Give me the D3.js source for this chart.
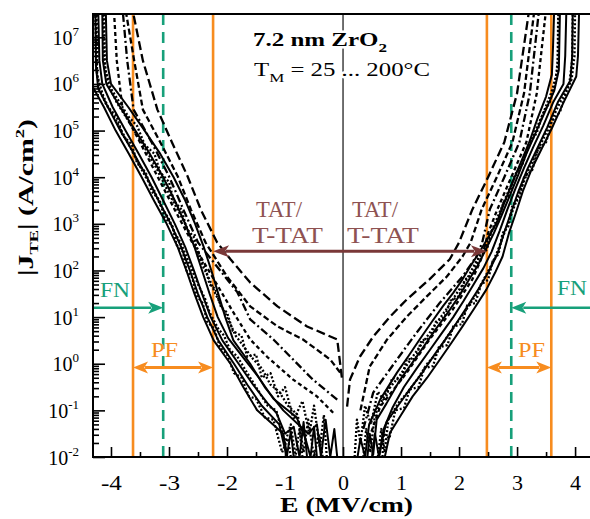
<!DOCTYPE html>
<html>
<head>
<meta charset="utf-8">
<script src="https://cdn.jsdelivr.net/npm/d3@7/dist/d3.min.js"></script>
<style>
  html, body { margin: 0; padding: 0; background: #fff; }
  text { font-family: "Liberation Serif", "Times New Roman", serif; }
</style>
</head>
<body>
<script>
// Current density |J_TE| vs field E for 7.2 nm ZrO2, T_M = 25 ... 200 °C.
// Each branch is stored as [E (MV/cm), log10 J (A/cm^2)] pairs.

// ---- negative-field branches ----
const leftSolidOuter = [[-0.96,-2],[-1.03,-1.5],[-1.48,-1],[-1.72,-0.5],[-1.94,0],[-2.23,0.5],[-2.41,1],[-2.56,1.5],[-2.7,2],[-2.85,2.5],[-3.04,3],[-3.26,3.5],[-3.47,4],[-3.69,4.5],[-3.92,5],[-4.12,5.5],[-4.32,5.95]];
const leftSolidB = [[-0.85,-2],[-0.9,-1.45],[-0.97,-2],[-1.1,-1.3],[-1.4,-0.9],[-1.65,-0.45],[-1.88,0],[-2.15,0.5],[-2.34,1],[-2.5,1.5],[-2.64,2],[-2.79,2.5],[-2.97,3],[-3.18,3.5],[-3.38,4],[-3.6,4.5],[-3.84,5],[-4.05,5.5],[-4.22,5.9],[-4.26,6.4],[-4.27,7.6]];
const leftSolidMid = [[-0.62,-2],[-0.68,-1.25],[-0.75,-2],[-0.85,-1.35],[-1.0,-1.5],[-1.15,-1.05],[-1.3,-0.85],[-1.55,-0.45],[-1.8,0],[-2.08,0.5],[-2.28,1],[-2.43,1.5],[-2.57,2],[-2.72,2.5],[-2.9,3],[-3.1,3.5],[-3.3,4],[-3.52,4.5],[-3.75,5],[-3.97,5.5],[-4.15,6],[-4.2,6.5],[-4.22,7.6]];
const leftSolidC = [[-0.45,-2],[-0.5,-1.35],[-0.56,-2],[-0.65,-1.6],[-0.8,-1.15],[-1.2,-0.75],[-1.45,-0.3],[-1.7,0.1],[-1.98,0.55],[-2.16,1],[-2.3,1.5],[-2.43,2],[-2.56,2.5],[-2.72,3],[-2.9,3.5],[-3.1,4],[-3.33,4.5],[-3.58,5],[-3.84,5.5],[-4.08,6],[-4.14,6.5],[-4.15,7.6]];
const leftSolidInner = [[-0.1,-2],[-0.15,-1.4],[-0.22,-2],[-0.3,-1.2],[-0.38,-2],[-0.45,-1.3],[-0.6,-1.5],[-1.03,-1],[-1.35,-0.5],[-1.6,0],[-1.89,0.5],[-2.03,1],[-2.15,1.5],[-2.27,2],[-2.4,2.5],[-2.55,3],[-2.72,3.5],[-2.92,4],[-3.15,4.5],[-3.42,5],[-3.7,5.5],[-4.0,6],[-4.07,6.5],[-4.09,7.6]];
const leftDotOuter = [[-0.7,-2],[-0.75,-1.4],[-0.82,-2],[-0.9,-1.3],[-1.0,-1.7],[-1.15,-1.0],[-1.3,-0.9],[-1.45,-0.6],[-1.55,-0.4],[-1.7,-0.1],[-1.82,0.15],[-1.95,0.3],[-2.05,0.6],[-2.15,0.75],[-2.3,1.1],[-2.38,1.4],[-2.5,1.7],[-2.6,2.0],[-2.7,2.3],[-2.8,2.6],[-2.9,2.8],[-3.0,3.1],[-3.15,3.4],[-3.25,3.7],[-3.4,4.0],[-3.55,4.35],[-3.65,4.6],[-3.8,4.95],[-3.95,5.3],[-4.1,5.6],[-4.2,5.9],[-4.25,6.3],[-4.27,7.6]];
const leftDotInner = [[-0.35,-2],[-0.42,-1.5],[-0.5,-2],[-0.6,-1.2],[-0.68,-1.9],[-0.78,-1.1],[-0.95,-0.9],[-1.1,-0.6],[-1.25,-0.45],[-1.4,-0.1],[-1.55,0.1],[-1.7,0.35],[-1.85,0.6],[-1.98,0.95],[-2.08,1.2],[-2.2,1.5],[-2.3,1.8],[-2.42,2.1],[-2.5,2.45],[-2.62,2.7],[-2.72,3.0],[-2.85,3.3],[-2.98,3.6],[-3.1,3.9],[-3.22,4.2],[-3.38,4.55],[-3.55,4.9],[-3.72,5.25],[-3.9,5.6],[-4.05,6.0],[-4.12,6.5],[-4.14,7.6]];
const leftNoisy = [[-0.28,-2],[-0.33,-1.1],[-0.4,-1.8],[-0.5,-0.9],[-0.58,-1.5],[-0.7,-0.8],[-0.85,-1.2],[-1.0,-0.5],[-1.12,-0.7],[-1.25,-0.2],[-1.4,-0.3],[-1.5,0.2],[-1.65,0.15],[-1.75,0.6],[-1.9,0.7],[-2.0,1.1],[-2.1,1.2],[-2.2,1.6],[-2.3,1.7],[-2.38,2.1],[-2.5,2.3],[-2.56,2.7],[-2.7,2.9],[-2.78,3.3],[-2.92,3.5],[-3.0,3.9],[-3.15,4.1],[-3.25,4.5],[-3.42,4.7],[-3.55,5.1],[-3.7,5.3],[-3.85,5.6],[-4.0,5.9],[-4.1,6.3],[-4.12,7.6]];
const leftNoisy2 = [[-0.9,-2],[-0.95,-1.6],[-1.05,-1.9],[-1.2,-1.2],[-1.35,-1.15],[-1.5,-0.75],[-1.62,-0.7],[-1.75,-0.3],[-1.88,-0.2],[-2.0,0.2],[-2.12,0.35],[-2.22,0.75],[-2.34,0.9],[-2.42,1.3],[-2.52,1.45],[-2.6,1.85],[-2.7,2.0],[-2.76,2.4],[-2.87,2.55],[-2.94,2.95],[-3.08,3.15],[-3.16,3.5],[-3.3,3.7],[-3.4,4.1],[-3.55,4.3],[-3.64,4.7],[-3.8,4.9],[-3.9,5.3],[-4.05,5.5],[-4.15,5.8],[-4.24,6.2],[-4.25,7.6]];
const leftDash200 = [[-0.02,-0.3],[-0.1,0.52],[-0.62,0.8],[-1.13,1.23],[-1.6,1.74],[-1.94,2.24],[-2.17,2.6],[-2.45,3.3],[-2.68,4.02],[-2.95,4.75],[-3.2,5.45],[-3.45,6.5],[-3.63,7.6]];
const leftDash175 = [[-0.05,-0.19],[-0.22,0.09],[-0.69,0.52],[-1.13,0.8],[-1.6,1.23],[-2.0,1.87],[-2.37,2.6],[-2.62,3.3],[-2.85,4.02],[-3.15,4.75],[-3.45,5.45],[-3.6,6.5],[-3.75,7.6]];
const leftDash150 = [[-0.1,-0.77],[-0.52,-0.34],[-0.86,0.09],[-1.2,0.52],[-1.6,0.95],[-1.82,1.53],[-2.5,2.6],[-2.75,3.3],[-3.0,4.02],[-3.3,4.75],[-3.61,5.45],[-3.72,6.5],[-3.8,7.6]];
const leftDash125 = [[-0.17,-1.05],[-0.45,-0.7],[-0.86,-0.34],[-1.31,0.15],[-1.6,0.52],[-1.89,1.1],[-2.6,2.6],[-2.9,3.3],[-3.2,4.02],[-3.5,4.75],[-3.8,5.45],[-3.9,6.5],[-3.95,7.6]];

// ---- positive-field branches ----
const rightSolidOuter = [[0.72,-2],[0.81,-1.48],[1.0,-1.1],[1.2,-0.7],[1.45,-0.3],[1.67,0.09],[1.87,0.45],[2.06,0.8],[2.27,1.2],[2.47,1.59],[2.62,1.95],[2.75,2.3],[2.86,2.8],[2.97,3.2],[3.1,3.7],[3.25,4.17],[3.42,4.6],[3.6,5.05],[3.8,5.6],[4.02,6.16],[4.05,6.6],[4.07,7.6]];
const rightSolidB = [[0.62,-2],[0.68,-1.6],[0.75,-1.25],[0.92,-0.95],[1.12,-0.6],[1.36,-0.2],[1.58,0.2],[1.78,0.55],[1.97,0.9],[2.17,1.28],[2.36,1.65],[2.52,2.0],[2.66,2.35],[2.78,2.82],[2.9,3.25],[3.03,3.72],[3.18,4.18],[3.35,4.62],[3.52,5.07],[3.7,5.6],[3.92,6.08],[3.95,6.6],[3.96,7.6]];
const rightSolidMid = [[0.5,-2],[0.55,-1.5],[0.62,-2],[0.7,-1.4],[0.85,-0.95],[1.05,-0.5],[1.27,-0.1],[1.5,0.3],[1.7,0.65],[1.9,1.0],[2.08,1.35],[2.25,1.7],[2.42,2.05],[2.56,2.4],[2.7,2.85],[2.83,3.3],[2.97,3.75],[3.12,4.2],[3.28,4.65],[3.45,5.1],[3.62,5.6],[3.8,6.0],[3.83,6.6],[3.85,7.6]];
const rightSolidC = [[0.42,-2],[0.46,-1.5],[0.52,-1.95],[0.58,-1.2],[0.75,-0.85],[0.98,-0.35],[1.2,0.03],[1.42,0.42],[1.62,0.78],[1.82,1.12],[2.0,1.45],[2.16,1.78],[2.32,2.1],[2.46,2.45],[2.6,2.8],[2.74,3.2],[2.88,3.62],[3.02,4.05],[3.16,4.5],[3.32,4.95],[3.48,5.4],[3.64,5.85],[3.72,6.3],[3.74,7.6]];
const rightSolidInner = [[0.25,-2],[0.3,-1.6],[0.38,-2],[0.45,-1.3],[0.64,-0.77],[0.93,-0.19],[1.12,0.15],[1.32,0.52],[1.52,0.88],[1.72,1.23],[1.9,1.52],[2.06,1.81],[2.2,2.1],[2.35,2.39],[2.5,2.7],[2.65,3.03],[2.78,3.45],[2.92,3.89],[3.06,4.3],[3.21,4.75],[3.35,5.25],[3.5,5.73],[3.6,6.2],[3.62,6.8],[3.64,7.6]];
const rightDotOuter = [[0.6,-2],[0.66,-1.4],[0.72,-1.9],[0.78,-1.2],[0.95,-0.85],[1.12,-0.6],[1.3,-0.3],[1.45,0.0],[1.6,0.2],[1.78,0.55],[1.95,0.85],[2.12,1.15],[2.28,1.45],[2.42,1.8],[2.55,2.1],[2.66,2.4],[2.78,2.8],[2.9,3.2],[3.02,3.6],[3.18,4.1],[3.35,4.55],[3.52,5.0],[3.7,5.5],[3.9,6.0],[3.95,6.5],[3.96,7.6]];
const rightDotInner = [[0.35,-2],[0.4,-1.4],[0.47,-1.9],[0.55,-1.1],[0.75,-0.6],[0.98,-0.25],[1.2,0.15],[1.4,0.5],[1.6,0.85],[1.8,1.2],[1.98,1.55],[2.15,1.85],[2.3,2.2],[2.45,2.5],[2.58,2.9],[2.7,3.25],[2.85,3.7],[3.0,4.1],[3.15,4.5],[3.3,4.95],[3.46,5.4],[3.6,5.85],[3.7,6.3],[3.72,7.6]];
const rightNoisy = [[0.2,-2],[0.24,-1.2],[0.3,-1.7],[0.38,-0.9],[0.48,-1.3],[0.6,-0.6],[0.72,-0.8],[0.85,-0.3],[1.0,-0.35],[1.1,0.1],[1.25,0.1],[1.35,0.5],[1.5,0.55],[1.6,0.9],[1.75,1.0],[1.85,1.35],[2.0,1.45],[2.1,1.8],[2.25,1.95],[2.35,2.3],[2.48,2.45],[2.56,2.85],[2.68,3.05],[2.76,3.45],[2.88,3.65],[2.96,4.05],[3.1,4.3],[3.2,4.7],[3.34,4.95],[3.44,5.35],[3.56,5.6],[3.66,6.0],[3.7,6.5],[3.71,7.6]];
const rightNoisy2 = [[0.68,-2],[0.7,-1.5],[0.8,-1.6],[0.9,-1.0],[1.05,-0.95],[1.15,-0.55],[1.3,-0.5],[1.4,-0.1],[1.55,-0.05],[1.65,0.35],[1.8,0.4],[1.9,0.8],[2.05,0.85],[2.14,1.25],[2.28,1.3],[2.38,1.7],[2.5,1.8],[2.58,2.2],[2.68,2.35],[2.75,2.8],[2.85,2.95],[2.92,3.4],[3.04,3.55],[3.12,4.0],[3.26,4.15],[3.36,4.6],[3.5,4.75],[3.6,5.2],[3.74,5.4],[3.84,5.8],[3.94,6.1],[3.99,6.6],[4.0,7.6]];
const rightDash200 = [[0.07,-0.92],[0.12,-0.34],[0.29,0.15],[0.52,0.58],[0.81,1.01],[1.1,1.38],[1.49,1.81],[1.84,2.24],[2.0,2.6],[2.23,3.31],[2.5,4.0],[2.78,4.75],[3.0,5.8],[3.21,7.6]];
const rightDash175 = [[0.3,-1.0],[0.46,-0.06],[0.76,0.52],[1.1,1.01],[1.44,1.44],[1.79,1.87],[2.06,2.3],[2.2,2.6],[2.39,3.31],[2.65,4.0],[2.92,4.75],[3.12,5.8],[3.3,7.6]];
const rightDash150 = [[0.35,-1.4],[0.52,-0.62],[0.93,0.09],[1.27,0.67],[1.67,1.31],[2.06,1.87],[2.3,2.3],[2.4,2.6],[2.53,3.31],[2.78,4.0],[3.04,4.75],[3.22,5.8],[3.38,7.6]];
const rightDash125 = [[0.45,-1.6],[0.64,-0.92],[1.1,-0.19],[1.49,0.52],[1.89,1.16],[2.23,1.81],[2.4,2.3],[2.5,2.8],[2.66,3.31],[2.9,4.0],[3.16,4.75],[3.34,5.8],[3.5,7.6]];

// ---- axis ticks ----
const xMajorTicks = [-4, -3, -2, -1, 0, 1, 2, 3, 4];
const xMinorTicks = [-3.5, -2.5, -1.5, -0.5, 0.5, 1.5, 2.5, 3.5];
const yDecades = [-2, -1, 0, 1, 2, 3, 4, 5, 6, 7];

// ---- conduction regime markers ----
const pfBounds = [-3.62, -2.24, 2.48, 3.59];   // Poole-Frenkel field limits
const fnBounds = [-3.1, 2.9];                  // Fowler-Nordheim onset
const tatLevel = 2.41, fnLevel = 1.2, pfLevel = -0.08;  // log10 J of arrows

// line styles for the branches
const styles = {
  solid:  { dash: null,        width: 2.0 },
  dot:    { dash: "2,2",       width: 2.3 },
  dash200:{ dash: "9,4",       width: 2.3 },
  dash175:{ dash: "6,3",       width: 2.3 },
  dash150:{ dash: "8,3,2,3",   width: 2.3 },
  dash125:{ dash: "4,3",       width: 2.3 }
};
const series = [
  [leftSolidOuter, "solid"], [leftSolidB, "solid"], [leftSolidMid, "solid"], [leftSolidC, "solid"], [leftSolidInner, "solid"],
  [leftDotOuter, "dot"], [leftDotInner, "dot"], [leftNoisy, "dot"], [leftNoisy2, "dot"],
  [leftDash200, "dash200"], [leftDash175, "dash175"], [leftDash150, "dash150"], [leftDash125, "dash125"],
  [rightSolidOuter, "solid"], [rightSolidB, "solid"], [rightSolidMid, "solid"], [rightSolidC, "solid"], [rightSolidInner, "solid"],
  [rightDotOuter, "dot"], [rightDotInner, "dot"], [rightNoisy, "dot"], [rightNoisy2, "dot"],
  [rightDash200, "dash200"], [rightDash175, "dash175"], [rightDash150, "dash150"], [rightDash125, "dash125"]
];

const W = 590, H = 519;
const pL = 93, pR = 589, pT = 14, pB = 457;

const x = d3.scaleLinear().domain([-4.31, 4.24]).range([pL, pR]);
const y = d3.scaleLog().domain([1e-2, Math.pow(10, 7.5)]).range([pB, pT]);
const J = lg => Math.pow(10, lg);

const svg = d3.select("body").append("svg").attr("width", W).attr("height", H);

svg.append("defs").append("clipPath").attr("id", "plot-clip")
  .append("rect").attr("x", pL).attr("y", pT).attr("width", pR - pL).attr("height", pB - pT);

const ORANGE = "#f78c1f", TEAL = "#17a07a", MAROON = "#7a3838", MAROON_TXT = "#8e5252";

// regime boundaries
const plot = svg.append("g").attr("clip-path", "url(#plot-clip)");
plot.selectAll("line.pf").data(pfBounds).join("line")
  .attr("x1", d => x(d)).attr("x2", d => x(d)).attr("y1", pT).attr("y2", pB)
  .attr("stroke", ORANGE).attr("stroke-width", 2.6);
plot.selectAll("line.fn").data(fnBounds).join("line")
  .attr("x1", d => x(d)).attr("x2", d => x(d)).attr("y1", pT).attr("y2", pB)
  .attr("stroke", TEAL).attr("stroke-width", 2.6).attr("stroke-dasharray", "11,7");

// zero-field line
plot.append("line").attr("x1", x(0)).attr("x2", x(0)).attr("y1", pT).attr("y2", pB)
  .attr("stroke", "#222").attr("stroke-width", 1.3);

// J-E branches
const line = d3.line().x(d => x(d[0])).y(d => y(J(d[1]))).curve(d3.curveLinear);
plot.selectAll("path.branch").data(series).join("path")
  .attr("class", "branch")
  .attr("d", d => line(d[0]))
  .attr("fill", "none").attr("stroke", "#000")
  .attr("stroke-width", d => styles[d[1]].width)
  .attr("stroke-dasharray", d => styles[d[1]].dash)
  .attr("stroke-linejoin", "round");

// arrows
function arrow(x1, x2, lg, color, width, headStart, headEnd, hl, hw) {
  const yy = y(J(lg));
  const g = svg.append("g");
  const a = headStart ? x1 + Math.sign(x2 - x1) * hl * 0.8 : x1;
  const b = headEnd ? x2 - Math.sign(x2 - x1) * hl * 0.8 : x2;
  g.append("line").attr("x1", a).attr("x2", b).attr("y1", yy).attr("y2", yy)
    .attr("stroke", color).attr("stroke-width", width);
  const head = (tip, dir) => g.append("path")
    .attr("d", `M${tip},${yy} L${tip - dir * hl},${yy - hw} L${tip - dir * hl * 0.75},${yy} L${tip - dir * hl},${yy + hw} Z`)
    .attr("fill", color);
  if (headStart) head(x1, Math.sign(x1 - x2));
  if (headEnd) head(x2, Math.sign(x2 - x1));
}
arrow(x(pfBounds[1]), x(pfBounds[2]), tatLevel, MAROON, 3, true, true, 16, 6);
arrow(x(pfBounds[0]), x(pfBounds[1]), pfLevel, ORANGE, 3, true, true, 15, 6);
arrow(x(pfBounds[2]), x(pfBounds[3]), pfLevel, ORANGE, 3, true, true, 15, 6);
arrow(pL, x(fnBounds[0]), fnLevel, TEAL, 2.5, false, true, 15, 6);
arrow(pR + 2, x(fnBounds[1]), fnLevel, TEAL, 2.5, false, true, 15, 6);

// regime labels
const lab = (tx, ty, s, color, fs, len) => svg.append("text").attr("x", tx).attr("y", ty)
  .attr("font-size", fs).attr("fill", color)
  .attr("textLength", len).attr("lengthAdjust", "spacingAndGlyphs").text(s);
lab(100, 297, "FN", TEAL, 21, 30);
lab(557, 295, "FN", TEAL, 21, 30);
lab(151, 357, "PF", ORANGE, 21, 27);
lab(518, 357, "PF", ORANGE, 21, 27);
lab(256, 217, "TAT/", MAROON_TXT, 24, 46);
lab(252, 243, "T-TAT", MAROON_TXT, 24, 71);
lab(352, 217, "TAT/", MAROON_TXT, 24, 46);
lab(347, 243, "T-TAT", MAROON_TXT, 24, 72);

// title block (white halo keeps the zero-field line from crossing the text)
const t1 = svg.append("text").attr("x", 253).attr("y", 46).attr("font-size", 19)
  .attr("font-weight", "bold").attr("stroke", "#fff").attr("stroke-width", 5)
  .attr("paint-order", "stroke").attr("fill", "#000")
  .attr("textLength", 134).attr("lengthAdjust", "spacingAndGlyphs");
t1.append("tspan").text("7.2 nm ZrO");
t1.append("tspan").attr("font-size", 13).attr("dy", 6).text("2");
const t2 = svg.append("text").attr("x", 254).attr("y", 76).attr("font-size", 19)
  .attr("stroke", "#fff").attr("stroke-width", 5).attr("paint-order", "stroke").attr("fill", "#000")
  .attr("textLength", 176).attr("lengthAdjust", "spacingAndGlyphs");
t2.append("tspan").text("T");
t2.append("tspan").attr("font-size", 13).attr("dy", 6).text("M");
t2.append("tspan").attr("dy", -6).text(" = 25 ... 200°C");

// axes (ticks point into the plot)
const xAxis = svg.append("g").attr("transform", `translate(0,${pB})`)
  .call(d3.axisBottom(x).tickValues(xMajorTicks).tickSize(-10).tickPadding(19).tickFormat(d => d === 0 ? "0" : (d < 0 ? "-" + (-d) : "" + d)));
svg.append("g").attr("transform", `translate(0,${pB})`)
  .call(d3.axisBottom(x).tickValues(xMinorTicks).tickSize(-5).tickFormat(""));

const yMinor = [];
yDecades.forEach(k => { for (let m = 2; m <= 9; m++) { const v = m * Math.pow(10, k); if (v < y.domain()[1]) yMinor.push(v); } });
const yAxis = svg.append("g").attr("transform", `translate(${pL},0)`)
  .call(d3.axisLeft(y).tickValues(yDecades.map(J)).tickSize(-12).tickPadding(14).tickFormat(""));
svg.append("g").attr("transform", `translate(${pL},0)`)
  .call(d3.axisLeft(y).tickValues(yMinor).tickSize(-6).tickFormat(""));

svg.selectAll(".domain").remove();
svg.selectAll(".tick line").attr("stroke", "#000").attr("stroke-width", 1.6);

xAxis.selectAll(".tick text").attr("font-size", 20).attr("fill", "#000")
  .attr("font-family", "Liberation Serif, serif")
  .attr("textLength", d => d < 0 ? 21 : 11).attr("lengthAdjust", "spacingAndGlyphs");

yAxis.selectAll(".tick").each(function(d, i) {
  const t = d3.select(this).select("text")
    .attr("font-size", 20).attr("fill", "#000").attr("font-family", "Liberation Serif, serif")
    .attr("x", -14).attr("dy", null).attr("y", 7).attr("text-anchor", "end");
  t.text(null);
  t.append("tspan").text("10");
  t.append("tspan").attr("font-size", 13).attr("dy", -9).text(yDecades[i]);
});

// frame
svg.append("path").attr("d", `M${pR + 2},${pT} H${pL} V${pB} H${pR + 2}`)
  .attr("fill", "none").attr("stroke", "#000").attr("stroke-width", 2);

// axis titles
svg.append("text").attr("x", 280).attr("y", 512)
  .attr("font-size", 22).attr("font-weight", "bold")
  .attr("textLength", 133).attr("lengthAdjust", "spacingAndGlyphs").text("E (MV/cm)");
const yt = svg.append("text").attr("transform", "translate(33,276) rotate(-90)")
  .attr("font-size", 21).attr("font-weight", "bold")
  .attr("textLength", 157).attr("lengthAdjust", "spacingAndGlyphs");
yt.append("tspan").text("|J");
yt.append("tspan").attr("font-size", 13).attr("dy", 5).text("TE");
yt.append("tspan").attr("dy", -5).text("| (A/cm");
yt.append("tspan").attr("font-size", 13).attr("dy", -9).text("2");
yt.append("tspan").attr("dy", 9).text(")");
</script>
</body>
</html>
